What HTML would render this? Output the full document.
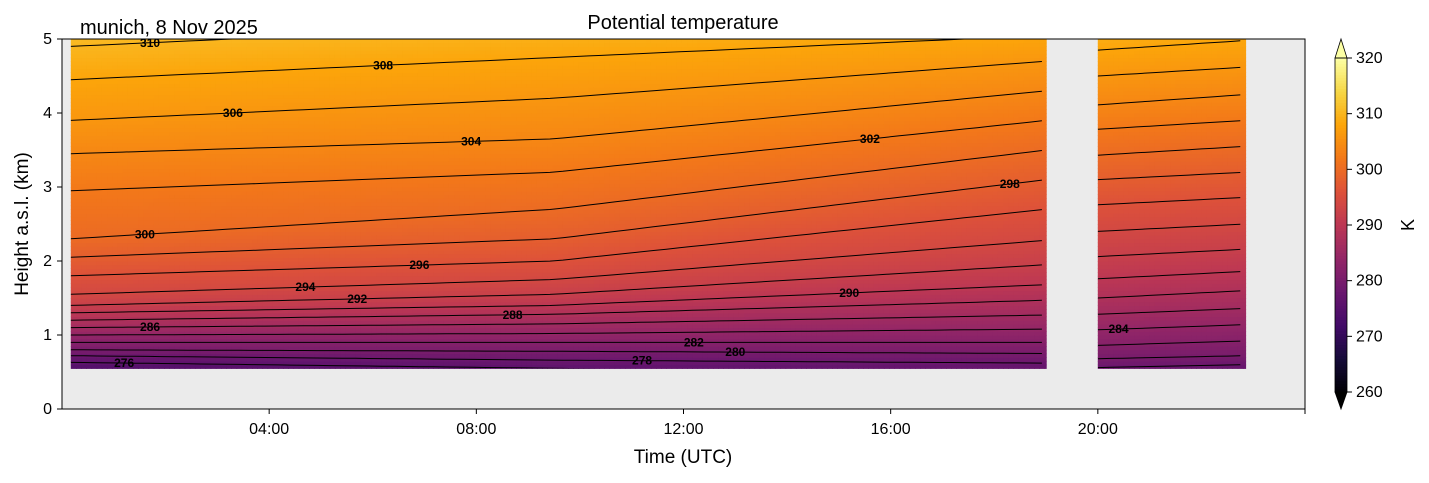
<!DOCTYPE html>
<html><head><meta charset="utf-8"><style>
body{margin:0;background:#fff;font-family:"Liberation Sans",sans-serif}
</style></head><body>
<svg id="svg" width="1429" height="478" xmlns="http://www.w3.org/2000/svg" style="font-family:'Liberation Sans',sans-serif">
<rect x="0" y="0" width="1429" height="478" fill="#fff"/>
<rect x="62" y="39" width="1243" height="370" fill="#ebebeb"/>
<g id="field"></g>
<g id="contours"></g>
<g id="labels"></g>
<rect x="62" y="39" width="1243" height="370" fill="none" stroke="#000" stroke-width="1"/>
<g id="axes"></g>
<text x="683" y="29" font-size="20" text-anchor="middle">Potential temperature</text>
<text x="80" y="34" font-size="20">munich, 8 Nov 2025</text>
<text x="683" y="463" font-size="19" text-anchor="middle">Time (UTC)</text>
<text transform="translate(28,224) rotate(-90)" font-size="19" text-anchor="middle">Height a.s.l. (km)</text>
<defs></defs>
<g id="cbar"></g>
<text transform="translate(1414,225) rotate(-90)" font-size="18" text-anchor="middle">K</text>
</svg>
<script>
const levels=[276,278,280,282,284,286,288,290,292,294,296,298,300,302,304,306,308,310,312];
const block1Times=[0.17,9.5,19];
const block2Times=[20,22.85];
// heights (km) of each contour level at block times
const h_t0 =[0.63,0.72,0.8,0.9,1.0,1.1,1.2,1.3,1.4,1.55,1.8,2.05,2.3,2.95,3.45,3.9,4.45,4.9,5.3];
const h_t95=[0.55,0.66,0.78,0.9,1.02,1.15,1.28,1.4,1.55,1.75,2.0,2.3,2.7,3.2,3.65,4.2,4.75,5.2,5.6];
const h_t19=[0.45,0.62,0.75,0.9,1.08,1.27,1.47,1.68,1.95,2.28,2.7,3.1,3.5,3.9,4.3,4.7,5.05,5.4,5.8];
const h_t20=[0.42,0.56,0.68,0.86,1.07,1.28,1.5,1.76,2.06,2.4,2.76,3.1,3.43,3.78,4.11,4.5,4.85,5.2,5.6];
const h_t23=[0.45,0.6,0.72,0.92,1.14,1.36,1.6,1.86,2.16,2.5,2.86,3.2,3.55,3.9,4.25,4.62,4.98,5.3,5.7];
const labelLevels=[310,308,306,304,302,298,300,296,294,292,290,288,286,284,282,280,278,276];
const labelTimes=[1.7,6.2,3.3,7.9,15.6,18.3,1.6,6.9,4.7,5.7,15.2,8.7,1.7,20.4,12.2,13.0,11.2,1.2];
const xTicks=[4,8,12,16,20];
const xTickLabels=["04:00","08:00","12:00","16:00","20:00"];
const yTicks=[0,1,2,3,4,5];
const cbTicks=[260,270,280,290,300,310,320];

const X=t=>62+t*1243/24, Y=z=>409-z*74;
const zMin=0.55,zMax=5;
const NS='http://www.w3.org/2000/svg';
function mk(tag,attrs,parent){const e=document.createElementNS(NS,tag);for(const k in attrs)e.setAttribute(k,attrs[k]);parent.appendChild(e);return e;}
const inf=[[0,0,0,4],[.1,22,11,57],[.2,66,10,104],[.3,106,23,110],[.4,147,38,103],[.5,188,55,84],[.6,221,81,58],[.7,243,120,25],[.8,252,165,10],[.9,246,215,70],[1,252,255,164]];
function cmap(v){let f=Math.max(0,Math.min(1,(v-260)/60));for(let i=1;i<inf.length;i++){if(f<=inf[i][0]){const a=inf[i-1],b=inf[i],u=(f-a[0])/(b[0]-a[0]);return`rgb(${[1,2,3].map(k=>Math.round(a[k]+u*(b[k]-a[k]))).join(',')})`;}}return'rgb(252,255,164)';}
function profileAt(t){
  let A,B,u;
  if(t<=19){ if(t<=9.5){A=h_t0;B=h_t95;u=(t-0.17)/(9.5-0.17);} else {A=h_t95;B=h_t19;u=(t-9.5)/9.5;} }
  else {A=h_t20;B=h_t23;u=(t-20)/2.85;}
  u=Math.max(0,Math.min(1,u));
  return A.map((a,i)=>a+u*(B[i]-a));
}
function thetaAt(h,z){
  if(z<h[0]){const u=(z-h[0])/(h[1]-h[0]);return levels[0]+u*(levels[1]-levels[0]);}
  for(let i=1;i<h.length;i++){ if(z<=h[i] && h[i]>h[i-1]){const u=(z-h[i-1])/(h[i]-h[i-1]);return levels[i-1]+u*(levels[i]-levels[i-1]);} }
  return levels[levels.length-1];
}
const field=document.getElementById('field');
const blocks=[[0.17,19],[20,22.85]];
const dt=0.1,dz=0.05;
blocks.forEach(([t0,t1],bi)=>{
  for(let t=t0;t<t1-1e-9;t+=dt){
    const te=Math.min(t+dt,t1);const h=profileAt((t+te)/2);
    for(let z=zMin;z<zMax-1e-9;z+=dz){
      const ze=Math.min(z+dz,zMax);
      const r=mk('rect',{x:X(t).toFixed(1),y:Y(ze).toFixed(1),width:(X(te)-X(t)+0.6).toFixed(1),height:(Y(z)-Y(ze)+0.6).toFixed(1),fill:cmap(thetaAt(h,(z+ze)/2))},field);
      
      
    }
  }
});
const cg=document.getElementById('contours');
const defs=document.querySelector('defs');
blocks.forEach(([t0,t1],bi)=>{
  const cp=mk('clipPath',{id:'clip'+bi},defs);
  mk('rect',{x:X(t0),y:Y(zMax),width:X(t1)-X(t0),height:Y(zMin)-Y(zMax)},cp);
  levels.forEach((lv,i)=>{
    let pts=[];
    for(let t=t0;t<=t1+1e-9;t+=0.25){pts.push(X(Math.min(t,t1)).toFixed(1)+','+Y(profileAt(Math.min(t,t1))[i]).toFixed(1));}
    const p=mk('polyline',{points:pts.join(' '),fill:'none',stroke:'#000','stroke-width':1,'clip-path':'url(#clip'+bi+')'},cg);
    
    
  });
});
const lg=document.getElementById('labels');
labelLevels.forEach((lv,k)=>{
  const t=labelTimes[k];const i=levels.indexOf(lv);const z=profileAt(t)[i];
  const e=mk('text',{x:X(t),y:Y(z)+4,'font-size':12,'font-weight':'bold','text-anchor':'middle'},lg);
  e.textContent=lv;
  
  
});
const ax=document.getElementById('axes');
xTicks.forEach((t,k)=>{
  mk('line',{x1:X(t),x2:X(t),y1:409,y2:414,stroke:'#000'},ax);
  const e=mk('text',{x:X(t),y:434,'font-size':16,'text-anchor':'middle'},ax);e.textContent=xTickLabels[k];
  
  
});
mk('line',{x1:1305,x2:1305,y1:409,y2:414,stroke:'#000'},ax);
yTicks.forEach(v=>{
  mk('line',{x1:57,x2:62,y1:Y(v),y2:Y(v),stroke:'#000'},ax);
  const e=mk('text',{x:52,y:Y(v)+5,'font-size':16,'text-anchor':'end'},ax);e.textContent=v;
  
  
});
const cb=document.getElementById('cbar');const CY=v=>392-(v-260)*(392-58)/60;
for(let v=260;v<320;v+=0.5){mk('rect',{x:1335,y:CY(v+0.5).toFixed(2),width:12,height:(CY(v)-CY(v+0.5)+0.4).toFixed(2),fill:cmap(v+0.25)},cb);}
mk('polygon',{points:'1335,58 1347,58 1341,39',fill:cmap(320),stroke:'#000','stroke-width':0.8},cb);
mk('polygon',{points:'1335,392 1347,392 1341,409',fill:'#000',stroke:'#000','stroke-width':0.8},cb);
mk('rect',{x:1335,y:58,width:12,height:334,fill:'none',stroke:'#000','stroke-width':0.8},cb);
cbTicks.forEach(v=>{
  mk('line',{x1:1347,x2:1352,y1:CY(v),y2:CY(v),stroke:'#000'},cb);
  const e=mk('text',{x:1356,y:CY(v)+5,'font-size':16},cb);e.textContent=v;
  
  
});
</script>
</body></html>
